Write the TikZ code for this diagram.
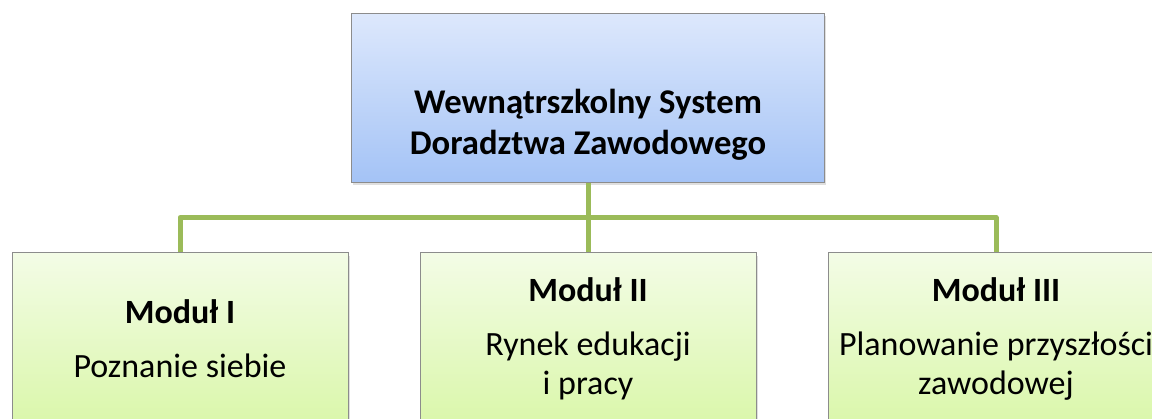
\documentclass[tikz,border=0pt]{standalone}
\usepackage{fontspec}
\setmainfont{Carlito}
\usepackage{xcolor}
\usepackage{tikz}
\usetikzlibrary{positioning,calc,shadows}

\definecolor{rootTop}{RGB}{221,232,252}
\definecolor{rootBot}{RGB}{164,195,246}
\definecolor{modTop}{RGB}{243,252,230}
\definecolor{modBot}{RGB}{218,247,170}
\definecolor{linkGreen}{RGB}{155,187,89}
\definecolor{edge}{RGB}{140,140,140}

\begin{document}
\begin{tikzpicture}[node distance=2cm,on grid,
    root/.style={rectangle,draw=edge,line width=0.75pt,
      top color=rootTop,bottom color=rootBot,
      minimum width=354.75pt,minimum height=126.75pt,
      drop shadow={shadow xshift=1.2pt,shadow yshift=-2pt,opacity=0.25}},
    module/.style={rectangle,draw=edge,line width=0.75pt,
      top color=modTop,bottom color=modBot,
      minimum width=252pt,minimum height=129pt,align=center,
      font=\fontsize{25.5}{29}\selectfont,
      drop shadow={shadow xshift=1.2pt,shadow yshift=-2pt,opacity=0.25}},
    link/.style={draw=linkGreen,line width=3.75pt,line join=round}]
    \useasboundingbox (0,0) rectangle (864pt,-313.5pt);
    \clip (0,0) rectangle (864pt,-313.5pt);
    \node[root] (wssdz) at (441pt,-73.125pt) {};
    \node[align=center,font=\fontsize{26}{30.75}\selectfont\bfseries]
      (wssdz_txt) [below=20.5pt of wssdz]
      {Wewnątrszkolny System\\Doradztwa Zawodowego};
    \node[module] (mod_2) [below=181.1pt of wssdz]
      {\textbf{Moduł II}\\[11.5pt]Rynek edukacji\\i pracy};
    \node[module] (mod_1) [left=306pt of mod_2]
      {\textbf{Moduł I}\\[11.5pt]Poznanie siebie};
    \node[module] (mod_3) [right=306pt of mod_2]
      {\textbf{Moduł III}\\[11.5pt]Planowanie przyszłości\\zawodowej};
    % connectors
    \coordinate (bus) at ($(wssdz.south)!0.5!(mod_2.north)$);
    \draw[link] (wssdz.south) -- (bus) -- (mod_2.north);
    \draw[link] (bus) -| (mod_1.north);
    \draw[link] (bus) -| (mod_3.north);
  \end{tikzpicture}
\end{document}
